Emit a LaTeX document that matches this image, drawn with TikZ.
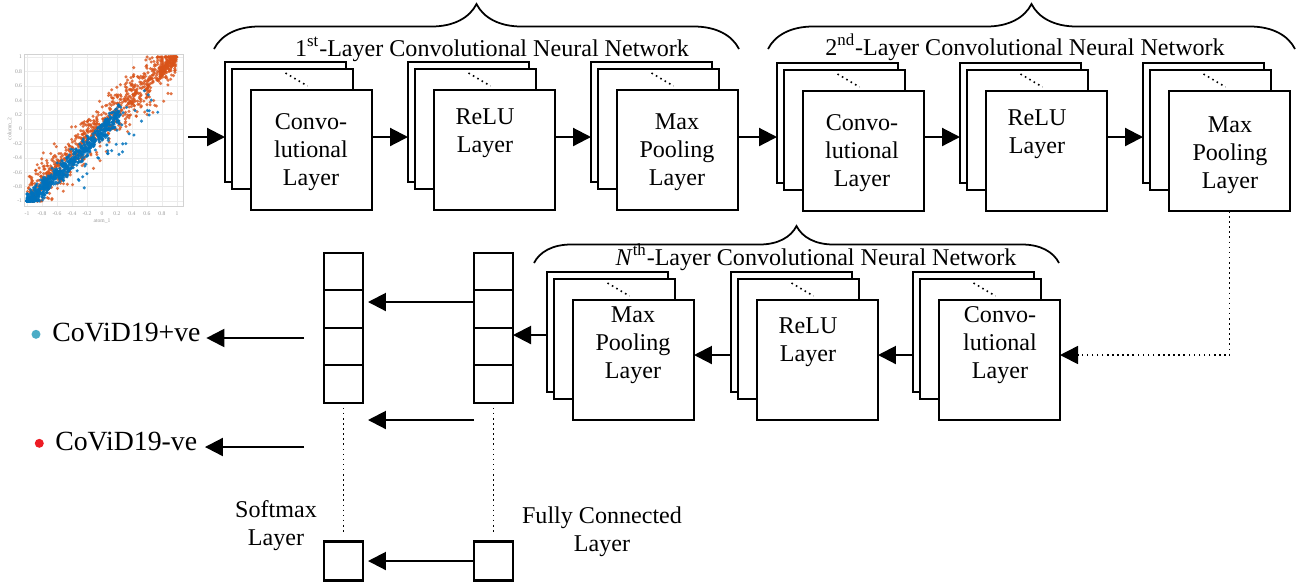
\documentclass[tikz,border=0pt]{standalone}
\usepackage{fontspec}
\setmainfont{Liberation Serif}
\usetikzlibrary{arrows.meta,calc,decorations.pathreplacing}
\definecolor{dotorange}{RGB}{217,83,25}
\definecolor{dotblue}{RGB}{0,114,189}
\definecolor{posblue}{RGB}{75,172,198}
\definecolor{negred}{RGB}{237,28,36}
\begin{document}
\begin{tikzpicture}[x=0.02cm, y=-0.02cm,
  sheet/.style={draw, fill=white, line width=1.2pt, minimum width=2.42cm, minimum height=2.4cm, inner sep=0pt, outer sep=0pt},
  cell/.style={draw, fill=white, line width=1.2pt, minimum width=0.78cm, minimum height=0.75cm, inner sep=0pt, outer sep=0pt},
  arr/.style={line width=1.2pt, -{Triangle[length=0.36cm, width=0.36cm]}},
  dotline/.style={line width=0.9pt, dotted},
  layertext/.style={align=center, font=\fontsize{13.7}{15.9}\selectfont, inner sep=0pt},
  bracetext/.style={anchor=base, font=\fontsize{13.7}{15.9}\selectfont, inner sep=0pt},
  outtext/.style={anchor=base west, font=\fontsize{15.8}{18}\selectfont, inner sep=0pt},
  brc/.style={decorate, decoration={brace, amplitude=#1}, line width=1pt},
  ticklab/.style={font=\fontsize{3.2}{3.5}\selectfont, text=gray!80, inner sep=0.5pt}]
\useasboundingbox (0,0) rectangle (1304,583);

% scatter plot of the input data
\begin{scope}[shift={(102,129)}, x=1.5cm, y=1.44cm]
  \foreach \k in {-5,...,5} {
    \draw[gray!15, line width=0.3pt] (\k/5,-1.07) -- (\k/5,1.04);
    \draw[gray!15, line width=0.3pt] (-1.03,\k/5) -- (1.08,\k/5);
  }
  \draw[gray!35, line width=0.4pt] (-1.03,-1.07) rectangle (1.08,1.04);
  \foreach \k/\t in {-5/-1,-4/-0.8,-3/-0.6,-2/-0.4,-1/-0.2,0/0,1/0.2,2/0.4,3/0.6,4/0.8,5/1} {
    \node[ticklab] at (\k/5,-1.17) {\t};
    \node[ticklab, anchor=east] at (-1.05,\k/5) {\t};
  }
  \node[ticklab] at (0,-1.28) {atom\_1};
  \node[ticklab, rotate=90] at (-1.23,0) {column\_2};
  \pgfmathsetseed{11}
  \foreach \i in {1,...,800} {
    \pgfmathsetmacro\ptx{rand}
    \pgfmathsetmacro\pty{max(-1,min(1,\ptx+0.14*(rand+rand+rand)+0.06))}
    \fill[dotorange, opacity=0.8] (\ptx,\pty) circle (0.034cm);
  }
  \foreach \i in {1,...,130} {
    \pgfmathsetmacro\ptx{min(1,0.88+0.12*rand)}
    \pgfmathsetmacro\pty{max(-1,min(1,\ptx+0.05*(rand+rand)))}
    \fill[dotorange, opacity=0.8] (\ptx,\pty) circle (0.034cm);
  }
  \foreach \i in {1,...,90} {
    \pgfmathsetmacro\ptx{rand}
    \pgfmathsetmacro\pty{max(-1,min(1,\ptx+0.45*rand))}
    \fill[dotorange, opacity=0.8] (\ptx,\pty) circle (0.034cm);
  }
  \foreach \i in {1,...,800} {
    \pgfmathsetmacro\ptt{abs(rand)}
    \pgfmathsetmacro\ptx{-1+1.25*\ptt*sqrt(\ptt)}
    \pgfmathsetmacro\pty{max(-1,min(1,\ptx+0.07*(rand+rand+rand)-0.04))}
    \fill[dotblue, opacity=0.85] (\ptx,\pty) circle (0.034cm);
  }
  \foreach \i in {1,...,45} {
    \pgfmathsetmacro\ptx{max(-1,min(1,0.55*rand+0.2))}
    \pgfmathsetmacro\pty{max(-1,min(1,\ptx-0.25+0.35*rand))}
    \fill[dotblue, opacity=0.85] (\ptx,\pty) circle (0.034cm);
  }
\end{scope}

% stacks of feature maps
\foreach \nm/\bx/\by in {c1/225/62, r1/408/62, m1/591/62, c2/777/63, r2/960/63, m2/1143/63, mN/547/272, rN/731/272, cN/913/272} {
  \node[sheet] (\nm-b) at (\bx+60.5,\by+60) {};
  \node[sheet] (\nm-m) at (\bx+67.5,\by+67) {};
  \node[sheet] (\nm-f) at (\bx+86.5,\by+88) {};
  \draw[dotline] ($(\nm-m.north)+(-7,4)$) -- ($(\nm-f.north)+(-4,-4)$);
}
\node[layertext] (c1-t) at (311,152) {Convo-\\lutional\\Layer};
\node[layertext] (r1-t) at (485,133) {ReLU\\Layer};
\node[layertext] (m1-t) at (677,152) {Max\\Pooling\\Layer};
\node[layertext] (c2-t) at (862,153) {Convo-\\lutional\\Layer};
\node[layertext] (r2-t) at (1037,134) {ReLU\\Layer};
\node[layertext] (m2-t) at (1230,155) {Max\\Pooling\\Layer};
\node[layertext] (mN-t) at (633,345) {Max\\Pooling\\Layer};
\node[layertext] (rN-t) at (808,342) {ReLU\\Layer};
\node[layertext] (cN-t) at (1000,345) {Convo-\\lutional\\Layer};

% braces
\draw[brc=0.9cm] (214,49) -- (739,49);
\draw[brc=0.9cm] (768,49) -- (1295,49);
\draw[brc=0.74cm] (534,263) -- (1059,263);
\node[bracetext] (cnn1) at (492,56) {1\textsuperscript{st}-Layer Convolutional Neural Network};
\node[bracetext] (cnn2) at (1025,55) {2\textsuperscript{nd}-Layer Convolutional Neural Network};
\node[bracetext] (cnnN) at (816,265) {\textit{N}\textsuperscript{th}-Layer Convolutional Neural Network};

% fully connected and softmax columns
\foreach \i in {1,...,4} {
  \node[cell] (sm\i) at (343.5,234+37.5*\i) {};
  \node[cell] (fc\i) at (493.5,234+37.5*\i) {};
}
\node[cell, minimum height=0.78cm] (smb) at (343.5,561) {};
\node[cell, minimum height=0.78cm] (fcb) at (493.5,561) {};
\draw[dotline] ([yshift=-0.1cm]sm4.south) -- ([yshift=0.13cm]smb.north);
\draw[dotline] ([yshift=-0.1cm]fc4.south) -- ([yshift=0.13cm]fcb.north);
\node[layertext] (smlab) at (276,526) {Softmax\\Layer};
\node[layertext] (fclab) at (602,532) {Fully Connected\\Layer};

% outputs
\fill[posblue] (36,334.3) circle (0.09cm);
\fill[negred] (39.3,443.3) circle (0.09cm);
\node[outtext] (pos) at (52,341.7) {CoViD19+ve};
\node[outtext] (neg) at (55,450.7) {CoViD19-ve};

% connectors
\coordinate (imgout) at (188,137);
\coordinate (rowA) at (0,137);
\coordinate (rowB) at (0,355);
\coordinate (rowC) at (0,335);
\coordinate (rowD) at (0,302);
\coordinate (rowE) at (0,420);
\coordinate (smout1) at (304,338);
\coordinate (smout2) at (304,447);
\draw[arr] (imgout) -- (c1-b.west |- imgout);
\foreach \a/\b in {c1/r1, r1/m1, m1/c2, c2/r2, r2/m2}
  \draw[arr] (\a-f.east |- rowA) -- (\b-b.west |- rowA);
\draw[arr, dotline] (m2-f.south) |- (cN-f.east |- rowB);
\foreach \a/\b in {cN/rN, rN/mN}
  \draw[arr] (\a-b.west |- rowB) -- (\b-f.east |- rowB);
\draw[arr] (mN-b.west |- rowC) -- (fc3.east |- rowC);
\draw[arr, shorten >=0.1cm] (fc2.west |- rowD) -- (sm2.east |- rowD);
\draw[arr, shorten >=0.1cm] (fc4.west |- rowE) -- (sm4.east |- rowE);
\draw[arr, shorten >=0.1cm] (fcb.west) -- (smb.east);
\draw[arr, shorten >=0.11cm] (smout1) -- (pos.east |- smout1);
\draw[arr, shorten >=0.15cm] (smout2) -- (neg.east |- smout2);
\end{tikzpicture}
\end{document}
